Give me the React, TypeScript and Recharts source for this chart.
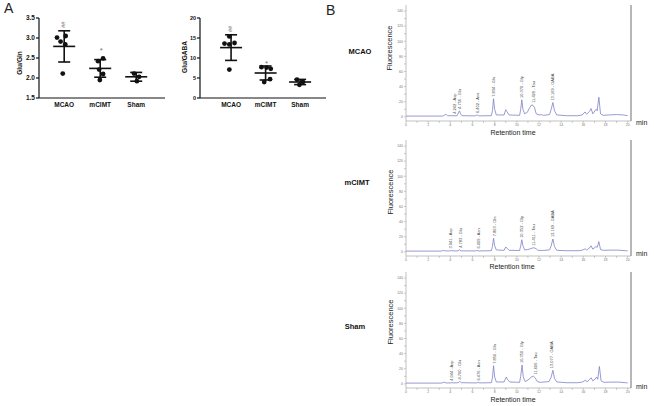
import React from "react";
import {
  ScatterChart,
  Scatter,
  ComposedChart,
  Line,
  XAxis,
  YAxis,
  ErrorBar,
  ReferenceLine,
} from "recharts";

const FONT = "Arial, 'Liberation Sans', Helvetica, sans-serif";

const groups = ["MCAO", "mCIMT", "Sham"];

// Panel A left: Glu/Gln per animal
const gluGlnMcao = [3.01, 3.05, 2.91, 2.84, 2.11];
const gluGlnMcimt = [2.42, 2.49, 2.21, 2.1, 1.95];
const gluGlnSham = [2.11, 2.03, 1.92];
const gluGlnMean = [2.79, 2.24, 2.03];
const gluGlnSd = [0.39, 0.22, 0.11];
const gluGlnTicks = [1.5, 2, 2.5, 3, 3.5];
// sideways scatter of the dots, in category units
const gluGlnSpread = [
  [-0.2, 0.04, -0.1, 0.03, -0.04],
  [-0.06, 0.08, -0.03, 0.08, -0.01],
  [-0.06, 0.08, 0.02],
];
const gluGlnMarks = ["##", "*", ""];
const gluGlnMarkY = [3.33, 2.7, 0];

// Panel A right: Glu/GABA per animal
const gluGabaMcao = [15.4, 13.6, 13.4, 13.75, 7.1];
const gluGabaMcimt = [7.7, 7.6, 7.3, 4.7, 4.0];
const gluGabaSham = [4.6, 4.0, 3.3];
const gluGabaMean = [12.6, 6.25, 4.0];
const gluGabaSd = [3.2, 1.75, 0.65];
const gluGabaTicks = [0, 5, 10, 15, 20];
const gluGabaSpread = [
  [-0.05, -0.19, -0.05, 0.1, -0.05],
  [-0.12, 0.03, 0.15, 0.13, -0.04],
  [-0.09, 0.08, -0.02],
];
const gluGabaMarks = ["##", "*", ""];
const gluGabaMarkY = [17.25, 8.75, 0];

// Panel B: chromatograms (retention time in min, fluorescence)
const peakNames = ["Asp", "Glu", "Asn", "Gln", "Gly", "Tau", "GABA"];
const mcaoPeakTimes = [4.242, 4.756, 6.402, 7.834, 10.37, 11.429, 13.169];
const mcimtPeakTimes = [3.941, 4.783, 6.409, 7.863, 10.352, 11.411, 13.169];
const shamPeakTimes = [4.044, 4.76, 6.476, 7.856, 10.35, 11.606, 13.077];

const mcaoTrace: [number, number][] = [
  [0, 1], [3.3, 1], [3.5, 2.5], [3.6, 3.5], [3.75, 1.5], [4.6, 1.5], [4.72, 5],
  [4.82, 8], [4.92, 4], [5.05, 1.5], [6.25, 1.3], [6.42, 2.5], [6.55, 1.3],
  [7.7, 1.5], [7.8, 8], [7.9, 24], [8.0, 10], [8.15, 2.5], [8.85, 2.5], [9.0, 9.5],
  [9.1, 7], [9.3, 2.5], [10.25, 2], [10.35, 10], [10.45, 22.5], [10.55, 10],
  [10.7, 4], [10.95, 6], [11.15, 12], [11.35, 16], [11.5, 14.5], [11.6, 12],
  [11.75, 4], [12.0, 2.5], [12.2, 3], [12.4, 2], [12.95, 3], [13.1, 10], [13.25, 19],
  [13.4, 8], [13.6, 2.5], [14.5, 1.5], [15.5, 1.5], [15.9, 2.5], [16.15, 6.5],
  [16.3, 3.5], [16.55, 7], [16.7, 11], [16.85, 4], [17.05, 8], [17.15, 10],
  [17.25, 8], [17.4, 26], [17.55, 4], [17.8, 2], [18.3, 2.5], [19.0, 3],
  [19.6, 2.5], [20, 1.5],
];

const mcimtTrace: [number, number][] = [
  [0, 1], [3.2, 1], [3.4, 2], [3.55, 1.2], [3.95, 1.2], [4.1, 1.8], [4.25, 1.2],
  [4.7, 1.3], [4.82, 2.8], [4.95, 1.3], [6.25, 1.2], [6.4, 1.8], [6.55, 1.2],
  [7.7, 1.5], [7.8, 7], [7.9, 18], [8.0, 8], [8.15, 2.5], [8.85, 2], [9.0, 6.5],
  [9.1, 5], [9.3, 2], [10.25, 1.8], [10.35, 8], [10.45, 16], [10.55, 8],
  [10.7, 2.5], [11.0, 3], [11.3, 4.5], [11.55, 5.5], [11.75, 4], [11.9, 2],
  [12.3, 1.8], [12.95, 2.5], [13.1, 8], [13.25, 17], [13.4, 7], [13.6, 2],
  [14.5, 1.5], [15.6, 1.5], [15.95, 2.5], [16.15, 4], [16.3, 2.5], [16.55, 5],
  [16.7, 8], [16.85, 3.5], [17.05, 6], [17.15, 7], [17.25, 6], [17.4, 13.5],
  [17.55, 3], [17.8, 2], [18.5, 2.3], [19.2, 2.2], [19.8, 1.5], [20, 1.3],
];

const shamTrace: [number, number][] = [
  [0, 1], [3.2, 1], [3.45, 2.2], [3.6, 1.2], [4.0, 1.2], [4.15, 1.6], [4.3, 1.2],
  [4.7, 1.5], [4.85, 3.2], [5.0, 1.5], [6.35, 1.2], [6.5, 1.8], [6.65, 1.2],
  [7.7, 1.5], [7.8, 8], [7.9, 24], [8.0, 9], [8.15, 2.5], [8.85, 2.5], [9.05, 9],
  [9.15, 6], [9.35, 2.5], [10.25, 2], [10.35, 10], [10.47, 25], [10.58, 9],
  [10.75, 3], [11.0, 5], [11.3, 9], [11.5, 10], [11.65, 8], [11.85, 3],
  [12.1, 2], [12.9, 3], [13.1, 9], [13.25, 18], [13.4, 7], [13.6, 2.5],
  [14.5, 1.5], [15.5, 1.5], [15.95, 2.5], [16.2, 5], [16.35, 2.5], [16.5, 5],
  [16.7, 8], [16.85, 4], [17.05, 6], [17.2, 9], [17.3, 6], [17.45, 23],
  [17.6, 4], [17.85, 2], [18.5, 2.3], [19.2, 2.3], [19.8, 1.5], [20, 1.3],
];

const timeTicks = [0, 1, 2, 3, 4, 5, 6, 7, 8, 9, 10, 11, 12, 13, 14, 15, 16, 17, 18, 19, 20];
const fluorTicks = [0, 10, 20, 30, 40, 50, 60, 70, 80, 90, 100, 110, 120, 130, 140];

type TextProps = {
  x: number;
  y: number;
  size: number;
  bold?: boolean;
  rotate?: number;
  left?: boolean;
  color?: string;
  children: React.ReactNode;
};

function Txt({ x, y, size, bold, rotate, left, color = "#111", children }: TextProps) {
  const tx = left ? "0" : "-50%";
  return (
    <div
      style={{
        position: "absolute",
        left: x,
        top: y,
        fontSize: size,
        fontWeight: bold ? 700 : 400,
        lineHeight: 1,
        whiteSpace: "nowrap",
        color,
        transform: `translate(${tx}, -50%)${rotate ? ` rotate(${rotate}deg)` : ""}`,
      }}
    >
      {children}
    </div>
  );
}

const MeanLine = (p: any) => (
  <line x1={p.cx - 11} x2={p.cx + 11} y1={p.cy} y2={p.cy} stroke="#111" strokeWidth={1.6} />
);

const Dot = (p: any) => <circle cx={p.cx} cy={p.cy} r={2.4} fill="#111" />;

const SigMark = (p: any) => {
  const star = p.payload.text === "*";
  return (
    <text
      x={p.cx}
      y={p.cy}
      textAnchor="middle"
      dominantBaseline="central"
      fontSize={star ? 8 : 5.5}
      fill="#777"
      transform={star ? undefined : `rotate(-90 ${p.cx} ${p.cy})`}
    >
      {p.payload.text}
    </text>
  );
};

type DotPlotProps = {
  left: number;
  axisWidth: number;
  tickSize: number;
  values: number[][];
  spread: number[][];
  mean: number[];
  sd: number[];
  ticks: number[];
  marks: string[];
  markY: number[];
  xDomain: [number, number];
  fmt: (v: number) => string;
};

function DotPlot({ left, axisWidth, tickSize, values, spread, mean, sd, ticks, marks, markY, xDomain, fmt }: DotPlotProps) {
  const dots = values.flatMap((vals, g) => vals.map((v, i) => ({ x: g + 1 + spread[g][i], y: v })));
  const summary = mean.map((m, g) => ({ x: g + 1, y: m, sd: sd[g] }));
  const sig = marks
    .map((text, g) => ({ x: g + 1 + (text === "*" ? 0.03 : -0.02), y: markY[g], text }))
    .filter((d) => d.text);
  return (
    <div style={{ position: "absolute", left, top: 0 }}>
      <ScatterChart
        width={axisWidth + 128}
        height={115}
        margin={{ top: 18, right: 2, bottom: 0, left: 0 }}
      >
        <XAxis
          type="number"
          dataKey="x"
          domain={xDomain}
          ticks={[1, 2, 3]}
          interval={0}
          tickFormatter={(v) => groups[v - 1]}
          tickLine={false}
          tickSize={3}
          tickMargin={1}
          axisLine={{ stroke: "#111", strokeWidth: 1.2 }}
          tick={{ fontSize: 6.5, fontWeight: 700, fill: "#111" }}
          height={17}
          allowDataOverflow
        />
        <YAxis
          type="number"
          dataKey="y"
          domain={[ticks[0], ticks[ticks.length - 1]]}
          ticks={ticks}
          interval={0}
          tickFormatter={fmt}
          tickSize={3}
          tickMargin={1}
          axisLine={{ stroke: "#111", strokeWidth: 1.2 }}
          tickLine={{ stroke: "#111", strokeWidth: 1.2 }}
          tick={{ fontSize: tickSize, fontWeight: 700, fill: "#111" }}
          width={axisWidth}
          allowDataOverflow
        />
        <Scatter data={summary} shape={MeanLine} isAnimationActive={false}>
          <ErrorBar dataKey="sd" direction="y" width={6} stroke="#111" strokeWidth={1.6} />
        </Scatter>
        <Scatter data={dots} shape={Dot} isAnimationActive={false} />
        <Scatter data={sig} shape={SigMark} isAnimationActive={false} />
      </ScatterChart>
    </div>
  );
}

const PeakLabel = (p: any) => (
  <text
    x={p.cx}
    y={p.cy}
    dy={1.4}
    fontSize={4}
    fill="#444"
    transform={`rotate(-90 ${p.cx} ${p.cy})`}
  >
    {p.payload.text}
  </text>
);

type ChromProps = {
  top: number;
  trace: [number, number][];
  times: number[];
};

function Chromatogram({ top, trace, times }: ChromProps) {
  const data = trace.map(([t, v]) => ({ t, v }));
  const labels = times.map((time, i) => {
    const x = time + 0.1;
    const near = trace.filter(([t]) => Math.abs(t - x) <= 0.25).map(([, v]) => v);
    const peak = near.length ? Math.max(...near) : 1.5;
    return { t: x, v: peak + 2.5, text: `${time.toFixed(3)} - ${peakNames[i]}` };
  });
  return (
    <div style={{ position: "absolute", left: 370, top }}>
      <ComposedChart width={265} height={139} margin={{ top: 5, right: 4, bottom: 0, left: 0 }}>
        <XAxis
          type="number"
          dataKey="t"
          domain={[0, 20.3]}
          ticks={timeTicks}
          interval={0}
          tickFormatter={(v) => (v % 2 === 0 ? String(v) : "")}
          tick={{ fontSize: 3.5, fill: "#777" }}
          tickSize={2}
          tickMargin={0.5}
          axisLine={{ stroke: "#999", strokeWidth: 0.6 }}
          tickLine={{ stroke: "#999", strokeWidth: 0.5 }}
          height={18}
          allowDataOverflow
        />
        <YAxis
          type="number"
          dataKey="v"
          domain={[-5.5, 148]}
          ticks={fluorTicks}
          interval={0}
          tickFormatter={(v) => (v % 20 === 0 ? String(v) : "")}
          tick={{ fontSize: 3.5, fill: "#777" }}
          tickSize={2}
          tickMargin={1}
          axisLine={{ stroke: "#999", strokeWidth: 0.6 }}
          tickLine={{ stroke: "#999", strokeWidth: 0.5 }}
          width={36}
          allowDataOverflow
        />
        <ReferenceLine x={20.3} stroke="#999" strokeWidth={1.4} />
        <Line
          data={data}
          dataKey="v"
          type="linear"
          stroke="#7d82c8"
          strokeWidth={0.8}
          dot={false}
          activeDot={false}
          isAnimationActive={false}
        />
        <Scatter data={labels} shape={PeakLabel} isAnimationActive={false} />
      </ComposedChart>
    </div>
  );
}

export default function App() {
  return (
    <div
      style={{
        position: "absolute",
        left: 0,
        top: 0,
        width: 654,
        height: 406,
        overflow: "hidden",
        background: "#fff",
        fontFamily: FONT,
      }}
    >
      <DotPlot
        left={0}
        axisWidth={39}
        tickSize={6.5}
        values={[gluGlnMcao, gluGlnMcimt, gluGlnSham]}
        spread={gluGlnSpread}
        mean={gluGlnMean}
        sd={gluGlnSd}
        ticks={gluGlnTicks}
        marks={gluGlnMarks}
        markY={gluGlnMarkY}
        xDomain={[0.3, 3.8]}
        fmt={(v) => v.toFixed(1)}
      />
      <DotPlot
        left={160}
        axisWidth={40}
        tickSize={5.5}
        values={[gluGabaMcao, gluGabaMcimt, gluGabaSham]}
        spread={gluGabaSpread}
        mean={gluGabaMean}
        sd={gluGabaSd}
        ticks={gluGabaTicks}
        marks={gluGabaMarks}
        markY={gluGabaMarkY}
        xDomain={[0.1, 3.75]}
        fmt={(v) => String(v)}
      />
      <Chromatogram top={0} trace={mcaoTrace} times={mcaoPeakTimes} />
      <Chromatogram top={135} trace={mcimtTrace} times={mcimtPeakTimes} />
      <Chromatogram top={267} trace={shamTrace} times={shamPeakTimes} />

      <Txt x={4} y={8} size={14} left color="#222">A</Txt>
      <Txt x={326} y={10} size={14} left color="#222">B</Txt>
      <Txt x={20} y={63} size={6.5} bold rotate={-90}>Glu/Gln</Txt>
      <Txt x={185} y={57} size={6.5} bold rotate={-90}>Glu/GABA</Txt>

      <Txt x={360} y={52} size={7.5} bold>MCAO</Txt>
      <Txt x={357} y={183} size={7.5} bold>mCIMT</Txt>
      <Txt x={355} y={327} size={7.5} bold>Sham</Txt>

      <Txt x={390} y={48} size={7.5} rotate={-90} color="#222">Fluorescence</Txt>
      <Txt x={391} y={192} size={7.5} rotate={-90} color="#222">Fluorescence</Txt>
      <Txt x={391} y={322} size={7.5} rotate={-90} color="#222">Fluorescence</Txt>

      <Txt x={513} y={131.5} size={7} color="#222">Retention time</Txt>
      <Txt x={512} y={266} size={7} color="#222">Retention time</Txt>
      <Txt x={513} y={399} size={7} color="#222">Retention time</Txt>

      <Txt x={636} y={122} size={7} left color="#222">min</Txt>
      <Txt x={636} y={253} size={7} left color="#222">min</Txt>
      <Txt x={636} y={386} size={7} left color="#222">min</Txt>
    </div>
  );
}
